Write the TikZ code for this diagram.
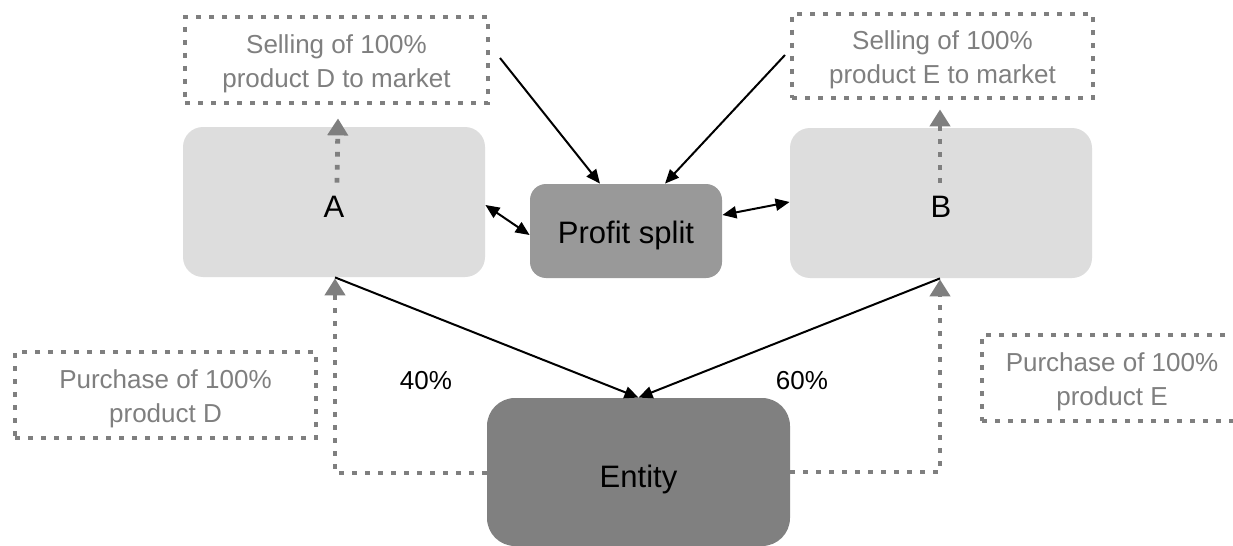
\documentclass[tikz,border=0pt]{standalone}
\usepackage{fontspec}
\setmainfont{Liberation Sans}
\usetikzlibrary{arrows.meta}
\definecolor{lightbox}{HTML}{DDDDDD}
\definecolor{midbox}{HTML}{999999}
\definecolor{darkbox}{HTML}{808080}
\definecolor{dotgray}{HTML}{7F7F7F}
\tikzset{
  solidbox/.style={rounded corners=10pt, inner sep=0pt},
  dotbox/.style={draw=dotgray, line width=2.4pt, dash pattern=on 2.4pt off 4.1pt, inner sep=0pt},
  dottxt/.style={text=dotgray, font=\fontsize{13}{16.8}\selectfont, align=center},
  dotarr/.style={draw=dotgray, line width=2.4pt, dash pattern=on 2.4pt off 4.1pt,
     -{Triangle[width=10pt,length=8.5pt]}},
  arr/.style={line width=1pt, -{Triangle[width=6pt,length=7pt]}},
  darr/.style={line width=1pt, {Triangle[width=6pt,length=7pt]}-{Triangle[width=6pt,length=7pt]}},
  bigtxt/.style={font=\fontsize{15.5}{18}\selectfont},
  pct/.style={font=\fontsize{13}{16}\selectfont},
}
\begin{document}
\begin{tikzpicture}[x=0.5pt,y=-0.5pt]
\clip (0,0) rectangle (1233,546);
\fill[white] (0,0) rectangle (1233,546);
% main boxes
\node[solidbox, fill=lightbox, minimum width=151pt, minimum height=75pt] (A) at (334,202) {};
\node[solidbox, fill=lightbox, minimum width=151pt, minimum height=75pt] (B) at (941,203) {};
\node[solidbox, rounded corners=8pt, fill=midbox, minimum width=96pt, minimum height=47pt] (P) at (626,231) {};
\node[solidbox, rounded corners=14pt, fill=darkbox, minimum width=151.5pt, minimum height=74pt] (E) at (638.5,472) {};
\node[bigtxt] (At) at ([yshift=-2.5pt]A.center) {A};
\node[bigtxt] (Bt) at ([yshift=-2pt]B.center) {B};
\node[bigtxt] (Pt) at ([yshift=-2pt]P.center) {Profit split};
\node[bigtxt] (Et) at ([yshift=-3.5pt]E.center) {Entity};
% dotted boxes
\node[dotbox, minimum width=151.5pt, minimum height=43pt] (SD) at (336.5,60) {};
\node[dotbox, minimum width=150.5pt, minimum height=42pt] (SE) at (942.5,56) {};
\node[dotbox, minimum width=150.5pt, minimum height=43pt] (PD) at (165.5,395) {};
\node[dotbox, minimum width=140pt, minimum height=43pt] (PE) at (1122,378) {};
\node[dottxt] (SDt) at ([yshift=-2pt]SD.center) {Selling of 100\%\\product D to market};
\node[dottxt] (SEt) at ([yshift=-2pt]SE.center) {Selling of 100\%\\product E to market};
\node[dottxt] (PDt) at ([yshift=-2pt]PD.center) {Purchase of 100\%\\product D};
\node[dottxt] (PEt) at (1112,381.5) {Purchase of 100\%\\product E};
% dotted arrows
\draw[dotarr] ([xshift=1.5pt,yshift=-28pt]A.north) -- ([xshift=0.75pt,yshift=-6.5pt]SD.south);
\draw[dotarr] ([xshift=-0.5pt,yshift=-27.5pt]B.north) -- ([xshift=-1.25pt,yshift=-4.5pt]SE.south);
\draw[dotarr] ([yshift=-0.5pt]E.west) -| ([xshift=0.5pt,yshift=-0.5pt]A.south);
\draw[dotarr] ([yshift=0pt]E.east) -| ([xshift=-0.5pt,yshift=-0.5pt]B.south);
% solid arrows
\coordinate (s1) at (500,58);
\coordinate (s2) at (785,55);
\draw[arr] (s1) -- ([xshift=-13pt]P.north);
\draw[arr] (s2) -- ([xshift=19.5pt]P.north);
\draw[darr] ([yshift=-1.5pt]A.east) -- ([yshift=-2pt]P.west);
\draw[darr] ([yshift=8pt]P.east) -- ([yshift=0.5pt]B.west);
\draw[arr] ([xshift=0.5pt]A.south) -- (E.north);
\draw[arr] ([xshift=-0.5pt]B.south) -- (E.north);
% labels
\node[pct] (l40) at (426,381) {40\%};
\node[pct] (l60) at (802,381) {60\%};
\end{tikzpicture}
\end{document}
